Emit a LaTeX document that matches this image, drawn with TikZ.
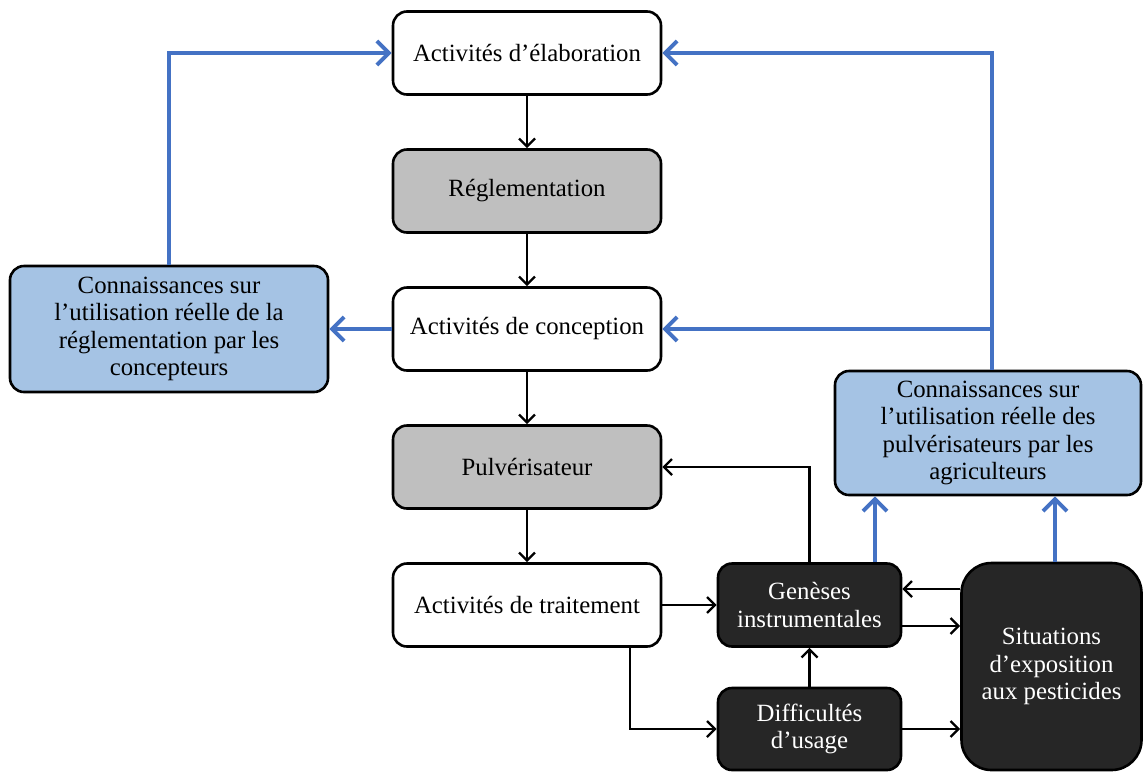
\documentclass[tikz,border=0pt]{standalone}
\usepackage{fontspec}
\setmainfont{Liberation Serif}
\usetikzlibrary{arrows.meta,calc}
\definecolor{lightblue}{HTML}{A5C3E4}
\definecolor{blueline}{HTML}{4472C4}
\definecolor{grayfill}{HTML}{BFBFBF}
\definecolor{darkfill}{HTML}{262626}
\begin{document}
\begin{tikzpicture}[x=0.5pt,y=-0.5pt,
  box/.style={draw=black, line width=1.3pt, rounded corners=7pt, align=center,
    font=\fontsize{12.4}{13.8}\selectfont, inner sep=1pt, fill=white},
  mainbox/.style={box, minimum width=134pt, minimum height=41.5pt},
  graybox/.style={mainbox, fill=grayfill},
  bluebox/.style={box, fill=lightblue},
  darkbox/.style={box, fill=darkfill, text=white},
  arr/.style={draw=black, line width=1.2pt, -{Straight Barb[length=4pt,width=8pt,line width=1.2pt]}},
  barr/.style={draw=blueline, line width=2pt, -{Straight Barb[length=6pt,width=12pt,line width=2pt]}},
  bline/.style={draw=blueline, line width=2pt}
]
\useasboundingbox (0,0) rectangle (1144,772);
\node[mainbox] (elab) at (527,53) {Activités d’élaboration};
\node[graybox] (regl) at (527,191) {Réglementation};
\node[mainbox] (conc) at (527,329) {Activités de conception};
\node[graybox] (pulv) at (527,467) {Pulvérisateur};
\node[mainbox] (trait) at (527,605) {Activités de traitement};
\node[bluebox, minimum width=159pt, minimum height=63pt] (lb) at (169,329)
  {Connaissances sur\\l’utilisation réelle de la\\réglementation par les\\concepteurs};
\node[bluebox, minimum width=153pt, minimum height=62pt] (rb) at (988,433)
  {Connaissances sur\\l’utilisation réelle des\\pulvérisateurs par les\\agriculteurs};
\node[darkbox, minimum width=91.5pt, minimum height=41.5pt] (gen) at (809.5,605)
  {Genèses\\instrumentales};
\node[darkbox, minimum width=91.5pt, minimum height=41pt] (diff) at (809.5,729)
  {Difficultés\\d’usage};
\node[darkbox, rounded corners=15pt, minimum width=90pt, minimum height=103.5pt] (sit) at (1051.5,666.5)
  {Situations\\d’exposition\\aux pesticides};

\coordinate (x630) at (630,0);
\coordinate (x875) at (875,0);
\coordinate (x992) at (992,0);
\coordinate (x1055) at (1055,0);
\coordinate (y589) at (0,589);
\coordinate (y626) at (0,626);

% black connectors
\draw[arr] (elab) -- (regl);
\draw[arr] (regl) -- (conc);
\draw[arr] (conc) -- (pulv);
\draw[arr] (pulv) -- (trait);
\draw[arr] (trait.east) -- (gen.west);
\draw[arr] (trait.south -| x630) |- (diff.west);
\draw[arr] (diff.north) -- (gen.south);
\draw[arr] (gen.north) |- (pulv.east);
\draw[arr] (gen.east |- y626) -- (sit.west |- y626);
\draw[arr] (sit.west |- y589) -- (gen.east |- y589);
\draw[arr] (diff.east) -- (sit.west |- diff.east);

% blue connectors
\draw[barr] (conc.west) -- (lb.east);
\draw[barr] (lb.north) |- (elab.west);
\draw[barr] (rb.north -| x992) |- (elab.east);
\draw[barr] (x992 |- conc.east) -- (conc.east);
\draw[barr] (gen.north -| x875) -- (rb.south -| x875);
\draw[barr] (sit.north -| x1055) -- (rb.south -| x1055);
\end{tikzpicture}
\end{document}
